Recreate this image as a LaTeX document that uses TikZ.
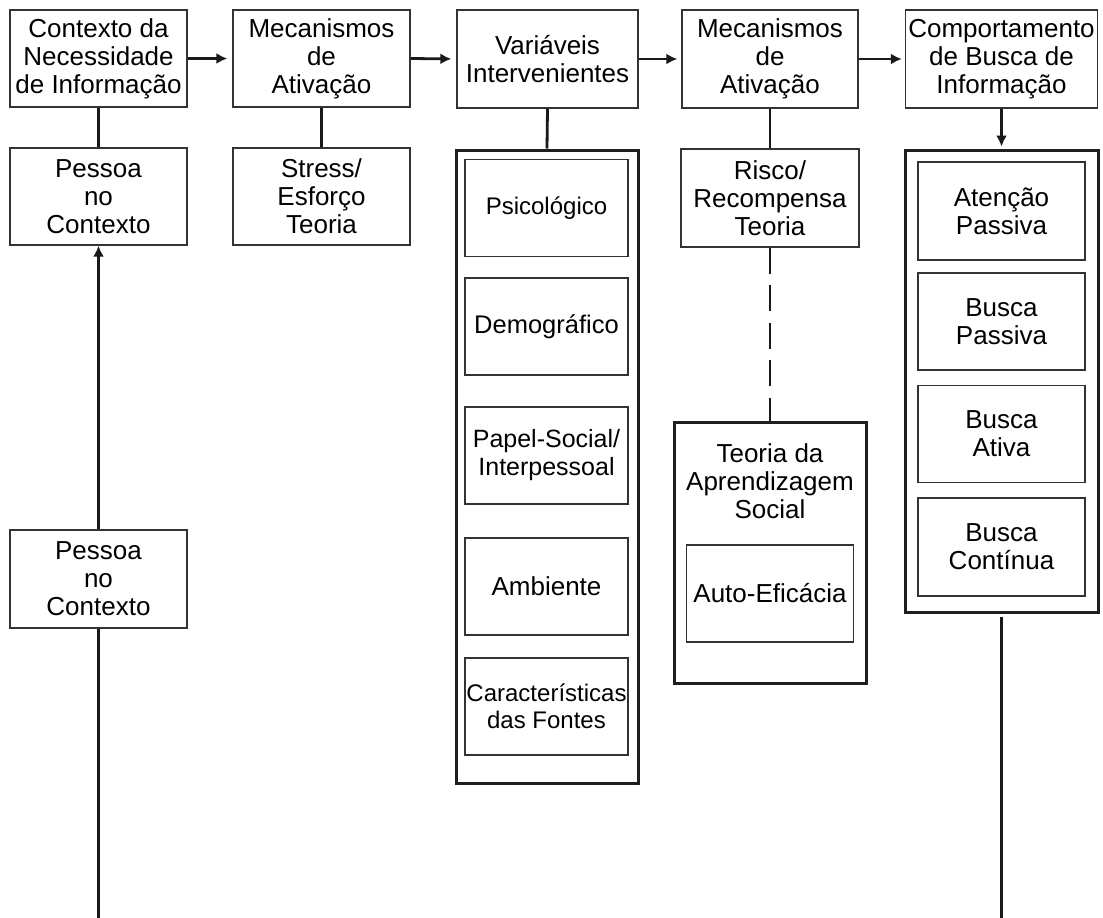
\documentclass[tikz,border=0pt]{standalone}
\usepackage{fontspec}
\setmainfont{Liberation Sans}
\usetikzlibrary{arrows.meta}
\begin{document}
\begin{tikzpicture}[x=1pt,y=-1pt,
  txt/.style={font=\fontsize{26}{28}\selectfont, align=center, text=black, inner sep=0pt},
  box/.style={txt, draw=black!80, line width=1.4pt, minimum width=177pt, minimum height=97pt},
  frame/.style={draw=black!88, line width=3pt, inner sep=0pt},
  ibox/.style={box, minimum width=163pt},
  cbox/.style={box, minimum width=167pt},
  conn/.style={draw=black!90, line width=2.8pt},
  arr/.style={conn, arrows={-Latex[length=11pt,width=11pt]}},
]
\useasboundingbox (0,0) rectangle (1103,918);
\fill[white] (0,0) rectangle (1103,918);

% top row
\node[box] (ctx) at (98.5,58.5) {Contexto da\\Necessidade\\de Informação};
\node[box] (mec1) at (321.5,58.5) {Mecanismos\\de\\Ativação};
\node[box, minimum width=181pt, minimum height=98pt] (var) at (547.5,59) {Variáveis\\Intervenientes};
\node[box, minimum width=176pt, minimum height=98pt] (mec2) at (770,59) {Mecanismos\\de\\Ativação};
\node[box, minimum width=192pt, minimum height=98pt] (comp) at (1001.5,59) {Comportamento\\de Busca de\\Informação};

% second row
\node[box] (pes1) at (98.5,196.5) {Pessoa\\no\\Contexto};
\node[box] (stress) at (321.5,196.5) {Stress/\\Esforço\\Teoria};
\node[box, minimum width=178pt, minimum height=98pt] (risco) at (770,198) {Risco/\\Recompensa\\Teoria};

% intervening variables
\node[frame, minimum width=182pt, minimum height=633pt] (varf) at (547,466.5) {};
\node[ibox, font=\fontsize{24}{28}\selectfont] (psi) at (546.5,208) {Psicológico};
\node[ibox, font=\fontsize{25.5}{28}\selectfont] (dem) at (546.5,326.5) {Demográfico};
\node[ibox, font=\fontsize{25}{28}\selectfont] (pap) at (546.5,455.5) {Papel-Social/\\Interpessoal};
\node[ibox] (amb) at (546.5,586.5) {Ambiente};
\node[ibox, font=\fontsize{24}{27}\selectfont] (car) at (546.5,706.5) {Características\\das Fontes};

% social learning theory
\node[frame, minimum width=192pt, minimum height=261pt] (teo) at (770,552.5) {};
\node[txt] (teotxt) at (770,481) {Teoria da\\Aprendizagem\\Social};
\node[cbox] (auto) at (770,593.5) {Auto-Eficácia};

% information seeking behaviour
\node[frame, minimum width=193pt, minimum height=462pt] (compf) at (1001.5,381) {};
\node[cbox, minimum height=98pt] (aten) at (1001.5,211) {Atenção\\Passiva};
\node[cbox] (bp) at (1001.5,321.5) {Busca\\Passiva};
\node[cbox] (ba) at (1001.5,434) {Busca\\Ativa};
\node[cbox, minimum height=98pt] (bc) at (1001.5,547) {Busca\\Contínua};

% lower-left person
\node[box, minimum height=98pt] (pes2) at (98.5,579) {Pessoa\\no\\Contexto};

\coordinate (bl) at (98.5,918);
\coordinate (br) at (1001.5,918);

% connectors
\draw[arr, shorten >=5pt] (ctx.east) -- (mec1.west);
\draw[arr, shorten >=5pt] (mec1.east) -- (var.west);
\draw[arr, shorten >=4pt] (var.east) -- (mec2.west);
\draw[arr, shorten >=3pt] (mec2.east) -- (comp.west);
\draw[arr, shorten >=2pt] (comp.south) -- (compf.north);
\draw[conn] (ctx.south) -- (pes1.north);
\draw[conn] (mec1.south) -- (stress.north);
\draw[conn] (var.south) -- (varf.north);
\draw[conn] (mec2.south) -- (risco.north);
\draw[conn, dash pattern=on 26pt off 11.5pt] (risco.south) -- (teo.north);
\draw[arr] (pes2.north) -- (pes1.south);
\draw[conn] (pes2.south) -- (bl);
\draw[conn, shorten <=3pt] (compf.south) -- (br);
\end{tikzpicture}
\end{document}
